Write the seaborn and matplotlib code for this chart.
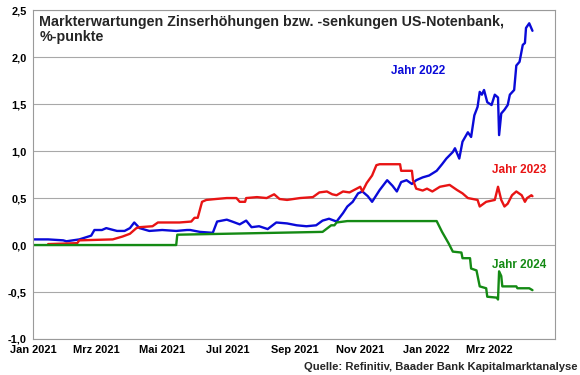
import pandas as pd
import matplotlib.pyplot as plt
import matplotlib.dates as mdates
import seaborn as sns
from matplotlib.ticker import FuncFormatter

# Jahr 2022
dates_2022 = ["2021-01-01", "2021-01-15", "2021-01-29", "2021-02-01", "2021-02-13", "2021-02-24",
              "2021-02-27", "2021-03-06", "2021-03-10", "2021-03-20", "2021-03-27", "2021-04-01",
              "2021-04-05", "2021-04-10", "2021-04-19", "2021-05-01", "2021-05-14", "2021-05-24",
              "2021-05-27", "2021-06-05", "2021-06-17", "2021-06-21", "2021-06-30", "2021-07-05",
              "2021-07-12", "2021-07-18", "2021-07-23", "2021-07-30", "2021-08-07", "2021-08-15",
              "2021-08-25", "2021-09-03", "2021-09-12", "2021-09-21", "2021-09-27", "2021-10-03",
              "2021-10-10", "2021-10-16", "2021-10-20", "2021-10-25", "2021-10-30", "2021-11-03",
              "2021-11-08", "2021-11-12", "2021-11-19", "2021-11-26", "2021-12-01", "2021-12-05",
              "2021-12-09", "2021-12-14", "2021-12-19", "2021-12-23", "2021-12-29", "2022-01-04",
              "2022-01-11", "2022-01-16", "2022-01-20", "2022-01-26", "2022-01-28", "2022-02-01",
              "2022-02-04", "2022-02-09", "2022-02-12", "2022-02-15", "2022-02-18", "2022-02-20",
              "2022-02-22", "2022-02-24", "2022-02-27", "2022-03-03", "2022-03-06", "2022-03-09",
              "2022-03-10", "2022-03-12", "2022-03-15", "2022-03-18", "2022-03-20", "2022-03-24",
              "2022-03-26", "2022-03-29", "2022-04-01", "2022-04-03", "2022-04-04", "2022-04-07",
              "2022-04-10"]
values_2022 = [0.06, 0.06, 0.05, 0.04, 0.06, 0.10,
               0.16, 0.16, 0.18, 0.15, 0.15, 0.18,
               0.24, 0.18, 0.15, 0.16, 0.15, 0.16,
               0.16, 0.14, 0.13, 0.25, 0.27, 0.25,
               0.22, 0.26, 0.19, 0.20, 0.17, 0.24,
               0.23, 0.21, 0.20, 0.21, 0.26, 0.28,
               0.25, 0.34, 0.41, 0.46, 0.55, 0.57,
               0.52, 0.46, 0.585, 0.69, 0.63, 0.57,
               0.67, 0.69, 0.65, 0.69, 0.72, 0.74,
               0.79, 0.86, 0.92, 0.99, 1.03, 0.92,
               1.10, 1.20, 1.15, 1.38, 1.47, 1.63,
               1.60, 1.65, 1.52, 1.49, 1.60, 1.57,
               1.17, 1.40, 1.44, 1.49, 1.60, 1.65,
               1.91, 1.95, 2.13, 2.15, 2.31, 2.36,
               2.28]

# Jahr 2023
dates_2023 = ["2021-01-15", "2021-02-11", "2021-02-13", "2021-03-16", "2021-03-25", "2021-04-01",
              "2021-04-07", "2021-04-10", "2021-04-22", "2021-04-27", "2021-05-17", "2021-05-28",
              "2021-05-31", "2021-06-03", "2021-06-07", "2021-06-11", "2021-06-20", "2021-06-30",
              "2021-07-09", "2021-07-12", "2021-07-17", "2021-07-18", "2021-07-28", "2021-08-06",
              "2021-08-13", "2021-08-18", "2021-08-25", "2021-09-06", "2021-09-18", "2021-09-24",
              "2021-10-01", "2021-10-06", "2021-10-10", "2021-10-16", "2021-10-22", "2021-10-27",
              "2021-11-01", "2021-11-03", "2021-11-07", "2021-11-12", "2021-11-16", "2021-11-19",
              "2021-12-08", "2021-12-09", "2021-12-19", "2021-12-20", "2021-12-23", "2021-12-29",
              "2022-01-02", "2022-01-07", "2022-01-14", "2022-01-23", "2022-01-30", "2022-02-04",
              "2022-02-09", "2022-02-18", "2022-02-20", "2022-02-26", "2022-03-06", "2022-03-09",
              "2022-03-12", "2022-03-15", "2022-03-18", "2022-03-22", "2022-03-26", "2022-03-31",
              "2022-04-03", "2022-04-05", "2022-04-09", "2022-04-10"]
values_2023 = [0.01, 0.02, 0.05, 0.06, 0.09, 0.12,
               0.18, 0.19, 0.20, 0.24, 0.24, 0.25,
               0.29, 0.29, 0.46, 0.48, 0.49, 0.50,
               0.50, 0.46, 0.46, 0.50, 0.51, 0.50,
               0.54, 0.49, 0.48, 0.50, 0.51, 0.56,
               0.57, 0.54, 0.53, 0.57, 0.56, 0.59,
               0.62, 0.57, 0.66, 0.74, 0.85, 0.86,
               0.86, 0.79, 0.79, 0.69, 0.60, 0.58,
               0.60, 0.57, 0.62, 0.64, 0.585, 0.55,
               0.50, 0.48, 0.41, 0.46, 0.48, 0.62,
               0.48, 0.41, 0.44, 0.53, 0.57, 0.53,
               0.46, 0.50, 0.53, 0.52]

# Jahr 2024
dates_2024 = ["2021-01-01", "2021-05-14", "2021-05-15", "2021-09-27", "2021-10-05", "2021-10-08",
              "2021-10-10", "2021-10-20", "2022-01-11", "2022-01-16", "2022-01-18", "2022-01-22",
              "2022-01-26", "2022-02-03", "2022-02-04", "2022-02-11", "2022-02-12", "2022-02-17",
              "2022-02-20", "2022-02-26", "2022-02-27", "2022-03-08", "2022-03-09", "2022-03-10",
              "2022-03-12", "2022-03-13", "2022-03-26", "2022-03-27", "2022-04-07", "2022-04-10"]
values_2024 = [0.0, 0.0, 0.11, 0.14, 0.21, 0.21,
               0.24, 0.255, 0.255, 0.14, 0.10, 0.02,
               -0.07, -0.08, -0.14, -0.14, -0.25, -0.27,
               -0.44, -0.46, -0.55, -0.56, -0.58, -0.28,
               -0.33, -0.44, -0.44, -0.46, -0.46, -0.48]

series_names = ["Jahr 2022", "Jahr 2023", "Jahr 2024"]
series_colors = ["#0a0ad8", "#e81414", "#148a14"]
tick_months = ["2021-01-01", "2021-03-01", "2021-05-01", "2021-07-01", "2021-09-01",
               "2021-11-01", "2022-01-01", "2022-03-01", "2022-05-01"]
tick_labels = ["Jan 2021", "Mrz 2021", "Mai 2021", "Jul 2021", "Sep 2021",
               "Nov 2021", "Jan 2022", "Mrz 2022", ""]

frames = []
for name, d, v in zip(series_names, [dates_2022, dates_2023, dates_2024],
                      [values_2022, values_2023, values_2024]):
    frames.append(pd.DataFrame({"Datum": pd.to_datetime(d), "Wert": v, "Serie": name}))
df = pd.concat(frames, ignore_index=True)

sns.set_theme(style="white")
plt.rcParams["font.family"] = ["Liberation Sans", "DejaVu Sans"]
plt.rcParams["font.weight"] = "bold"

fig = plt.figure(figsize=(5.8, 3.75), dpi=100)
ax = fig.add_axes([0.057, 0.096, 0.900, 0.877])

sns.lineplot(data=df, x="Datum", y="Wert", hue="Serie", palette=series_colors,
             hue_order=series_names, linewidth=1.7, legend=False, ax=ax)

ax.set_xlim(pd.Timestamp("2021-01-01"), pd.Timestamp("2022-05-01"))
ax.set_ylim(-1.0, 2.5)
ax.set_yticks([-1.0, -0.5, 0.0, 0.5, 1.0, 1.5, 2.0, 2.5])
ax.yaxis.set_major_formatter(FuncFormatter(lambda v, p: f"{v:.1f}".replace(".", ",")))
ax.set_xticks(pd.to_datetime(tick_months))
ax.set_xticklabels(tick_labels)
ax.set_xlabel("")
ax.set_ylabel("")

ax.grid(axis="y", color="#a8a8a8", linewidth=0.8)
ax.set_axisbelow(True)
for s in ax.spines.values():
    s.set_color("#9a9a9a")
    s.set_linewidth(0.8)
ax.tick_params(axis="both", colors="#9a9a9a", labelcolor="black", labelsize=7.9,
               length=3, width=0.8, pad=1.5)
ax.tick_params(axis="x", direction="out", length=3)
for lbl in ax.get_xticklabels() + ax.get_yticklabels():
    lbl.set_fontweight("bold")

ax.text(0.012, 0.985, "Markterwartungen Zinserhöhungen bzw. -senkungen US-Notenbank,\n%-punkte",
        transform=ax.transAxes, ha="left", va="top", fontsize=10.3, fontweight="bold",
        linespacing=1.1)

label_pos = [(pd.Timestamp("2021-12-25"), 1.85), (pd.Timestamp("2022-03-29"), 0.80),
             (pd.Timestamp("2022-03-29"), -0.21)]
for name, color, (xd, yv) in zip(series_names, series_colors, label_pos):
    ax.text(mdates.date2num(xd), yv, name, color=color, fontsize=8.5, fontweight="bold",
            ha="center", va="center")

fig.text(0.995, 0.022, "Quelle: Refinitiv, Baader Bank Kapitalmarktanalyse",
         ha="right", va="center", fontsize=8.1, fontweight="bold")

fig.savefig("out.png", dpi=100)
